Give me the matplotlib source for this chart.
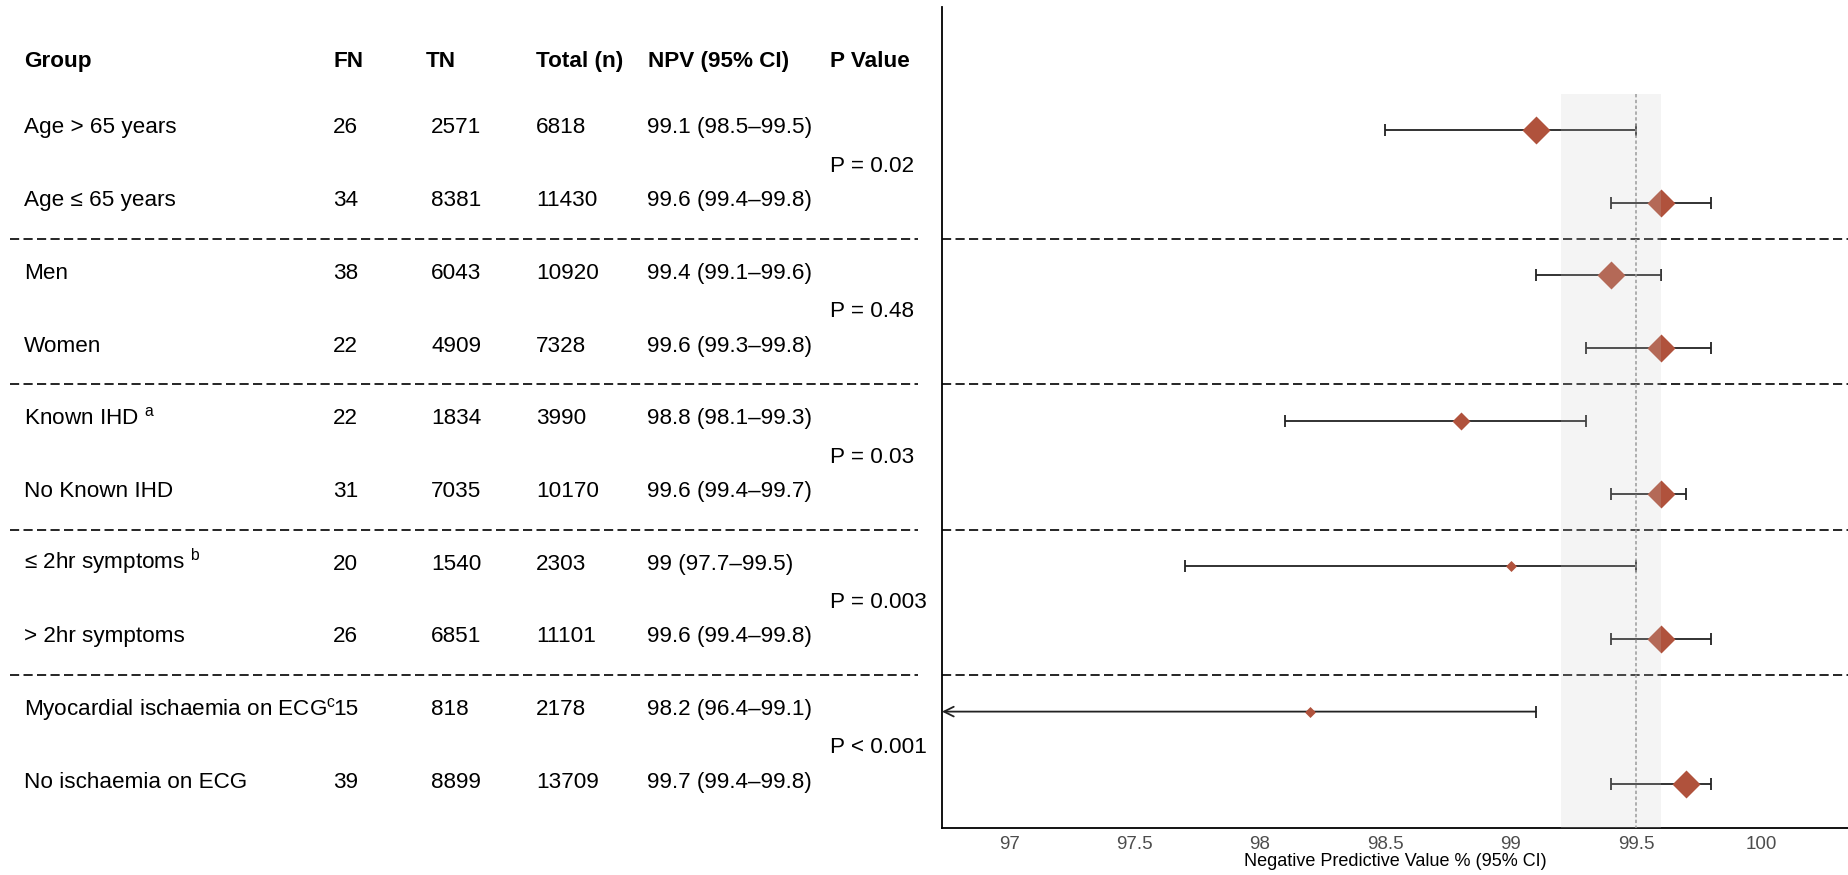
import matplotlib
matplotlib.use("Agg")
import matplotlib.pyplot as plt
from matplotlib.path import Path
import numpy as np

plt.rcParams['font.family'] = ['Liberation Sans', 'DejaVu Sans']
plt.rcParams['mathtext.fontset'] = 'custom'
plt.rcParams['mathtext.rm'] = 'Liberation Sans'
plt.rcParams['mathtext.it'] = 'Liberation Sans:italic'
plt.rcParams['mathtext.bf'] = 'Liberation Sans:bold'

# ---- data -------------------------------------------------------------
groups = ["Age > 65 years", "Age \u2264 65 years", "Men", "Women",
          "Known IHD", "No Known IHD", "\u2264 2hr symptoms", "> 2hr symptoms",
          "Myocardial ischaemia on ECG", "No ischaemia on ECG"]
footnotes = ["", "", "", "", "a", "", "b", "", "c", ""]
fn = [26, 34, 38, 22, 22, 31, 20, 26, 15, 39]
tn = [2571, 8381, 6043, 4909, 1834, 7035, 1540, 6851, 818, 8899]
total = [6818, 11430, 10920, 7328, 3990, 10170, 2303, 11101, 2178, 13709]
npv = [99.1, 99.6, 99.4, 99.6, 98.8, 99.6, 99.0, 99.6, 98.2, 99.7]
ci_lo = [98.5, 99.4, 99.1, 99.3, 98.1, 99.4, 97.7, 99.4, 96.4, 99.4]
ci_hi = [99.5, 99.8, 99.6, 99.8, 99.3, 99.7, 99.5, 99.8, 99.1, 99.8]
p_values = ["P = 0.02", "P = 0.48", "P = 0.03", "P = 0.003", "P < 0.001"]
headers = ["Group", "FN", "TN", "Total (n)", "NPV (95% CI)", "P Value"]

overall_npv = 99.5
overall_ci = (99.2, 99.6)
x_ticks = [97, 97.5, 98, 98.5, 99, 99.5, 100]
x_range = (96.732, 100.345)

# ---- styling ----------------------------------------------------------
diamond_px = [28, 28, 28, 28, 18, 28, 11, 28, 11, 28]
point_color = "#B0523C"
bar_color = "#222222"
FIG_W, FIG_H = 1848, 875
DPI = 100

fig = plt.figure(figsize=(FIG_W / DPI, FIG_H / DPI), dpi=DPI)
top_px, bottom_px, split_px = 7, 828, 942
ax_h = (bottom_px - top_px) / FIG_H
ax_b = 1 - bottom_px / FIG_H
ax = fig.add_axes([split_px / FIG_W, ax_b, 1 - split_px / FIG_W, ax_h])
tab = fig.add_axes([0, ax_b, (split_px - 2) / FIG_W, ax_h])

n = len(groups)
rows = np.arange(1, n + 1)
ylim = (10.601, -0.692)

# ---- forest plot ------------------------------------------------------
diamond = Path([(0, 1), (1, 0), (0, -1), (-1, 0), (0, 1)],
               [Path.MOVETO, Path.LINETO, Path.LINETO, Path.LINETO, Path.CLOSEPOLY])

for y, est, lo, hi, sz in zip(rows, npv, ci_lo, ci_hi, diamond_px):
    if lo < x_range[0]:
        ax.annotate('', xy=(x_range[0], y), xytext=(hi, y),
                    arrowprops=dict(arrowstyle='->,head_length=0.7,head_width=0.35',
                                    mutation_scale=10, lw=1.3, color=bar_color,
                                    shrinkA=0, shrinkB=0), zorder=2)
        ax.plot([hi], [y], marker='|', ms=8, mew=1.3, color=bar_color, zorder=2)
    else:
        ax.hlines(y, lo, hi, color=bar_color, lw=1.3, zorder=2)
        ax.plot([lo, hi], [y, y], ls='none', marker='|', ms=8, mew=1.3,
                color=bar_color, zorder=2)
    ax.plot([est], [y], ls='none', marker=diamond, ms=sz * 0.72,
            color=point_color, mec='none', zorder=3)

# pooled estimate band and reference line
ax.fill_betweenx([rows[0] - 0.5, ylim[0]], overall_ci[0], overall_ci[1],
                 color="#C8C8C8", alpha=0.2, lw=0, zorder=5)
ax.vlines(overall_npv, rows[0] - 0.5, ylim[0], colors="#9A9A9A", lw=1.1,
          linestyles=(0, (2.2, 1.6)), zorder=6)

separators = rows[1:-1:2] + 0.5
for s in separators:
    ax.axhline(s, color="black", lw=1.2, ls=(0, (5.5, 2.6)), zorder=4)

ax.set_xlim(*x_range)
ax.set_ylim(*ylim)
ax.set_yticks([])
ax.set_xticks(x_ticks)
ax.set_xticklabels([f"{t:g}" for t in x_ticks])
ax.tick_params(axis='x', length=0, pad=5.5, labelsize=13.5, labelcolor="#4D4D4D")
ax.set_xlabel("Negative Predictive Value % (95% CI)", fontsize=13, labelpad=0.5)
for side in ("top", "right"):
    ax.spines[side].set_visible(False)
for side in ("left", "bottom"):
    ax.spines[side].set_linewidth(1.3)
    ax.spines[side].set_color("black")

# ---- table ------------------------------------------------------------
tab.set_xlim(0, split_px - 2)
tab.set_ylim(*ylim)
tab.axis('off')

FS = 16.2
col_x_header = [24, 333, 426, 536, 648, 830]
col_x_value = [24, 333, 431, 536, 647]
header_y = 0.129
for x, h in zip(col_x_header, headers):
    tab.text(x, header_y, h, fontsize=FS, fontweight='bold', va='baseline', ha='left')

for y, g, note, f, t, tot, est, lo, hi in zip(rows, groups, footnotes, fn, tn, total,
                                              npv, ci_lo, ci_hi):
    base = y + 0.048
    if not note:
        label = g
    elif len(g) > 20:
        label = g + r"$^{\mathrm{" + note + "}}$"
    else:
        label = g + r" $^{\mathrm{" + note + "}}$"
    cells = [label, str(f), str(t), str(tot), f"{est:g} ({lo:g}\u2013{hi:g})"]
    for x, c in zip(col_x_value, cells):
        tab.text(x, base, c, fontsize=FS, va='baseline', ha='left')

for k, p in enumerate(p_values):
    yc = (rows[2 * k] + rows[2 * k + 1]) / 2
    tab.text(830, yc + 0.075, p, fontsize=FS, va='baseline', ha='left')

for s in separators:
    tab.hlines(s, 10, 918, color="black", lw=1.2, linestyles=(0, (5.5, 2.6)))

fig.savefig("out.png", dpi=DPI)
